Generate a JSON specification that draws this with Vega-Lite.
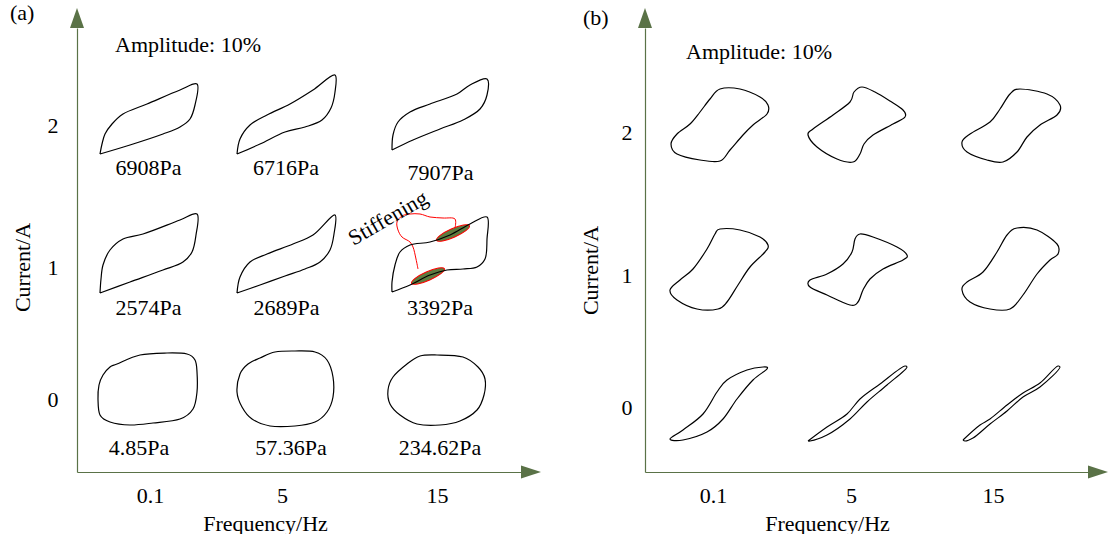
{
  "$schema": "https://vega.github.io/schema/vega-lite/v6.json",
  "background": "white",
  "padding": {"left": 10, "top": 1, "right": 0, "bottom": 0},
  "bounds": "flush",
  "spacing": 124,
  "config": {
    "view": {"stroke": null},
    "font": "Liberation Serif, Times New Roman, serif",
    "text": {"font": "Liberation Serif, Times New Roman, serif"},
    "axis": {
      "labelFont": "Liberation Serif, Times New Roman, serif", "titleFont": "Liberation Serif, Times New Roman, serif",
      "labelFontSize": 22, "titleFontSize": 22, "titleFontWeight": "normal",
      "labelColor": "#000000", "titleColor": "#000000",
      "ticks": false, "grid": false,
      "domainColor": "#5a7247", "domainWidth": 1.2,
      "labelFlush": false, "labelOverlap": false, "labelBound": false
    }
  },
  "datasets": {
    "loopsA": [
      {"id":"a20","x":23,"y":318},{"id":"a20","x":53,"y":327},{"id":"a20","x":86,"y":338},{"id":"a20","x":103,"y":345},{"id":"a20","x":113,"y":353},{"id":"a20","x":118,"y":367},{"id":"a20","x":120,"y":388},{"id":"a20","x":103,"y":382},{"id":"a20","x":70,"y":368},{"id":"a20","x":46,"y":358},{"id":"a20","x":35,"y":348},{"id":"a20","x":28,"y":338},{"id":"a20","x":25,"y":328},{"id":"a20","x":23,"y":318},
      {"id":"a21","x":160,"y":318},{"id":"a21","x":183,"y":328},{"id":"a21","x":208,"y":340},{"id":"a21","x":228,"y":345},{"id":"a21","x":245,"y":352},{"id":"a21","x":254,"y":364},{"id":"a21","x":258,"y":380},{"id":"a21","x":258,"y":397},{"id":"a21","x":236,"y":382},{"id":"a21","x":213,"y":368},{"id":"a21","x":190,"y":357},{"id":"a21","x":173,"y":347},{"id":"a21","x":163,"y":333},{"id":"a21","x":160,"y":318},
      {"id":"a22","x":315,"y":322},{"id":"a22","x":336,"y":332},{"id":"a22","x":363,"y":343},{"id":"a22","x":386,"y":352},{"id":"a22","x":403,"y":363},{"id":"a22","x":410,"y":377},{"id":"a22","x":410,"y":393},{"id":"a22","x":393,"y":387},{"id":"a22","x":380,"y":378},{"id":"a22","x":353,"y":368},{"id":"a22","x":333,"y":360},{"id":"a22","x":321,"y":350},{"id":"a22","x":316,"y":337},{"id":"a22","x":315,"y":322},
      {"id":"a10","x":23,"y":179},{"id":"a10","x":53,"y":190},{"id":"a10","x":86,"y":202},{"id":"a10","x":106,"y":210},{"id":"a10","x":115,"y":220},{"id":"a10","x":119,"y":237},{"id":"a10","x":120,"y":258},{"id":"a10","x":103,"y":252},{"id":"a10","x":66,"y":238},{"id":"a10","x":46,"y":233},{"id":"a10","x":33,"y":222},{"id":"a10","x":26,"y":207},{"id":"a10","x":24,"y":193},{"id":"a10","x":23,"y":179},
      {"id":"a11","x":160,"y":179},{"id":"a11","x":183,"y":187},{"id":"a11","x":208,"y":196},{"id":"a11","x":228,"y":203},{"id":"a11","x":243,"y":210},{"id":"a11","x":253,"y":222},{"id":"a11","x":257,"y":238},{"id":"a11","x":258,"y":257},{"id":"a11","x":236,"y":237},{"id":"a11","x":216,"y":228},{"id":"a11","x":190,"y":218},{"id":"a11","x":173,"y":210},{"id":"a11","x":163,"y":195},{"id":"a11","x":160,"y":179},
      {"id":"a12","x":315,"y":180},{"id":"a12","x":333,"y":187},{"id":"a12","x":353,"y":197},{"id":"a12","x":370,"y":202},{"id":"a12","x":386,"y":203},{"id":"a12","x":400,"y":205},{"id":"a12","x":408,"y":213},{"id":"a12","x":410,"y":233},{"id":"a12","x":410,"y":255},{"id":"a12","x":393,"y":248},{"id":"a12","x":373,"y":237},{"id":"a12","x":353,"y":230},{"id":"a12","x":333,"y":227},{"id":"a12","x":323,"y":220},{"id":"a12","x":318,"y":207},{"id":"a12","x":315,"y":190},{"id":"a12","x":315,"y":180},
      {"id":"a00","x":40,"y":108},{"id":"a00","x":63,"y":117},{"id":"a00","x":90,"y":119},{"id":"a00","x":110,"y":118},{"id":"a00","x":118,"y":112},{"id":"a00","x":120,"y":100},{"id":"a00","x":120,"y":80},{"id":"a00","x":116,"y":63},{"id":"a00","x":103,"y":53},{"id":"a00","x":76,"y":49},{"id":"a00","x":53,"y":47},{"id":"a00","x":33,"y":50},{"id":"a00","x":23,"y":57},{"id":"a00","x":21,"y":73},{"id":"a00","x":22,"y":87},{"id":"a00","x":26,"y":97},{"id":"a00","x":33,"y":105},
      {"id":"a01","x":160,"y":80},{"id":"a01","x":163,"y":98},{"id":"a01","x":171,"y":108},{"id":"a01","x":183,"y":114},{"id":"a01","x":198,"y":120},{"id":"a01","x":218,"y":121},{"id":"a01","x":238,"y":120},{"id":"a01","x":250,"y":112},{"id":"a01","x":256,"y":95},{"id":"a01","x":256,"y":75},{"id":"a01","x":250,"y":60},{"id":"a01","x":238,"y":50},{"id":"a01","x":218,"y":46},{"id":"a01","x":193,"y":46},{"id":"a01","x":175,"y":53},{"id":"a01","x":165,"y":65},
      {"id":"a02","x":360,"y":117},{"id":"a02","x":386,"y":115},{"id":"a02","x":401,"y":105},{"id":"a02","x":408,"y":93},{"id":"a02","x":407,"y":77},{"id":"a02","x":400,"y":62},{"id":"a02","x":383,"y":51},{"id":"a02","x":363,"y":47},{"id":"a02","x":340,"y":48},{"id":"a02","x":323,"y":57},{"id":"a02","x":313,"y":68},{"id":"a02","x":311,"y":82},{"id":"a02","x":316,"y":95},{"id":"a02","x":330,"y":108},{"id":"a02","x":343,"y":116}
    ],
    "loopsB": [
      {"id":"b20","x":75,"y":383},{"id":"b20","x":95,"y":383},{"id":"b20","x":115,"y":375},{"id":"b20","x":123,"y":367},{"id":"b20","x":122,"y":358},{"id":"b20","x":108,"y":347},{"id":"b20","x":98,"y":337},{"id":"b20","x":85,"y":322},{"id":"b20","x":75,"y":311},{"id":"b20","x":55,"y":312},{"id":"b20","x":32,"y":318},{"id":"b20","x":26,"y":328},{"id":"b20","x":32,"y":338},{"id":"b20","x":45,"y":348},{"id":"b20","x":55,"y":360},{"id":"b20","x":65,"y":373},
      {"id":"b21","x":163,"y":337},{"id":"b21","x":168,"y":343},{"id":"b21","x":188,"y":357},{"id":"b21","x":205,"y":370},{"id":"b21","x":209,"y":380},{"id":"b21","x":217,"y":385},{"id":"b21","x":230,"y":380},{"id":"b21","x":245,"y":371},{"id":"b21","x":258,"y":362},{"id":"b21","x":260,"y":355},{"id":"b21","x":248,"y":348},{"id":"b21","x":228,"y":337},{"id":"b21","x":219,"y":328},{"id":"b21","x":215,"y":318},{"id":"b21","x":208,"y":310},{"id":"b21","x":192,"y":313},{"id":"b21","x":172,"y":325},
      {"id":"b22","x":375,"y":383},{"id":"b22","x":402,"y":378},{"id":"b22","x":415,"y":367},{"id":"b22","x":412,"y":357},{"id":"b22","x":395,"y":347},{"id":"b22","x":382,"y":335},{"id":"b22","x":372,"y":320},{"id":"b22","x":358,"y":310},{"id":"b22","x":342,"y":312},{"id":"b22","x":322,"y":320},{"id":"b22","x":317,"y":330},{"id":"b22","x":325,"y":338},{"id":"b22","x":345,"y":350},{"id":"b22","x":355,"y":363},{"id":"b22","x":365,"y":378},
      {"id":"b10","x":75,"y":243},{"id":"b10","x":95,"y":242},{"id":"b10","x":115,"y":235},{"id":"b10","x":123,"y":227},{"id":"b10","x":120,"y":220},{"id":"b10","x":105,"y":205},{"id":"b10","x":93,"y":187},{"id":"b10","x":82,"y":170},{"id":"b10","x":73,"y":163},{"id":"b10","x":52,"y":163},{"id":"b10","x":32,"y":172},{"id":"b10","x":25,"y":182},{"id":"b10","x":35,"y":192},{"id":"b10","x":48,"y":203},{"id":"b10","x":62,"y":223},{"id":"b10","x":70,"y":238},
      {"id":"b11","x":215,"y":238},{"id":"b11","x":228,"y":235},{"id":"b11","x":252,"y":225},{"id":"b11","x":262,"y":217},{"id":"b11","x":258,"y":212},{"id":"b11","x":238,"y":203},{"id":"b11","x":225,"y":193},{"id":"b11","x":218,"y":182},{"id":"b11","x":213,"y":170},{"id":"b11","x":205,"y":167},{"id":"b11","x":182,"y":177},{"id":"b11","x":165,"y":185},{"id":"b11","x":165,"y":192},{"id":"b11","x":182,"y":198},{"id":"b11","x":198,"y":208},{"id":"b11","x":207,"y":220},{"id":"b11","x":210,"y":233},
      {"id":"b12","x":372,"y":244},{"id":"b12","x":392,"y":242},{"id":"b12","x":412,"y":228},{"id":"b12","x":413,"y":218},{"id":"b12","x":405,"y":212},{"id":"b12","x":392,"y":198},{"id":"b12","x":378,"y":177},{"id":"b12","x":365,"y":163},{"id":"b12","x":345,"y":163},{"id":"b12","x":325,"y":170},{"id":"b12","x":317,"y":182},{"id":"b12","x":322,"y":190},{"id":"b12","x":338,"y":200},{"id":"b12","x":352,"y":220},{"id":"b12","x":362,"y":237},
      {"id":"b00","x":25,"y":33},{"id":"b00","x":38,"y":42},{"id":"b00","x":58,"y":58},{"id":"b00","x":72,"y":80},{"id":"b00","x":82,"y":92},{"id":"b00","x":102,"y":102},{"id":"b00","x":118,"y":105},{"id":"b00","x":122,"y":103},{"id":"b00","x":108,"y":92},{"id":"b00","x":92,"y":73},{"id":"b00","x":78,"y":53},{"id":"b00","x":62,"y":40},{"id":"b00","x":38,"y":32},
      {"id":"b01","x":163,"y":31},{"id":"b01","x":182,"y":45},{"id":"b01","x":202,"y":58},{"id":"b01","x":215,"y":73},{"id":"b01","x":235,"y":88},{"id":"b01","x":260,"y":106},{"id":"b01","x":262,"y":105},{"id":"b01","x":242,"y":87},{"id":"b01","x":222,"y":70},{"id":"b01","x":205,"y":53},{"id":"b01","x":182,"y":37},{"id":"b01","x":165,"y":31},{"id":"b01","x":163,"y":31},
      {"id":"b02","x":318,"y":32},{"id":"b02","x":335,"y":47},{"id":"b02","x":345,"y":53},{"id":"b02","x":362,"y":67},{"id":"b02","x":378,"y":79},{"id":"b02","x":395,"y":89},{"id":"b02","x":413,"y":106},{"id":"b02","x":415,"y":105},{"id":"b02","x":395,"y":85},{"id":"b02","x":378,"y":75},{"id":"b02","x":362,"y":61},{"id":"b02","x":345,"y":48},{"id":"b02","x":328,"y":34},{"id":"b02","x":320,"y":31},{"id":"b02","x":318,"y":32}
    ],
    "redA": [
      {"id":"p1","x":378,"y":244},{"id":"p1","x":378,"y":253},{"id":"p1","x":366,"y":254},{"id":"p1","x":353,"y":255},{"id":"p1","x":343,"y":258},{"id":"p1","x":333,"y":258},{"id":"p1","x":325,"y":256},{"id":"p1","x":320,"y":250},{"id":"p1","x":321,"y":242},{"id":"p1","x":325,"y":235},{"id":"p1","x":333,"y":230},{"id":"p1","x":336,"y":225},{"id":"p1","x":339,"y":213},{"id":"p1","x":341,"y":203}
    ],
    "ellipsesA": [{"x":376,"y":239},{"x":351,"y":196}],
    "stressA": [
      {"x":71.5,"y":297,"text":"6908Pa"},{"x":209,"y":297,"text":"6716Pa"},{"x":363.5,"y":292,"text":"7907Pa"},
      {"x":71.5,"y":157,"text":"2574Pa"},{"x":209.5,"y":157,"text":"2689Pa"},{"x":363,"y":157,"text":"3392Pa"},
      {"x":62,"y":17,"text":"4.85Pa"},{"x":214,"y":17,"text":"57.36Pa"},{"x":363,"y":17,"text":"234.62Pa"}
    ]
  },
  "hconcat": [
    {
      "width": 444, "height": 444,
      "encoding": {
        "x": {"field": "x", "type": "quantitative", "scale": {"domain": [0, 444], "nice": false, "zero": false},
              "axis": {"values": [73, 205, 360], "labelExpr": "datum.value < 100 ? '0.1' : datum.value < 300 ? '5' : '15'", "labelPadding": 13, "title": "Frequency/Hz", "titleX": 188, "titleY": 58, "titleBaseline": "alphabetic"}},
        "y": {"field": "y", "type": "quantitative", "scale": {"domain": [0, 444], "nice": false, "zero": false},
              "axis": {"values": [73, 205, 347], "labelExpr": "datum.value < 100 ? '0' : datum.value < 300 ? '1' : '2'", "labelPadding": 19, "labelBaseline": "middle", "title": "Current/A", "titleX": -55, "titleY": 239, "titleBaseline": "middle", "titleAngle": 270}}
      },
      "layer": [
        {"data": {"values": [{"x": 0, "y": 444}]}, "mark": {"type": "point", "shape": "M0,-4L1.4,0L-1.4,0Z", "size": 100, "filled": true, "color": "#5a7247", "opacity": 1, "strokeWidth": 0}},
        {"data": {"values": [{"x": 444, "y": 0}]}, "mark": {"type": "point", "shape": "M4,0L0,1.3L0,-1.3Z", "size": 100, "filled": true, "color": "#5a7247", "opacity": 1, "strokeWidth": 0}},
        {"data": {"name": "ellipsesA"}, "mark": {"type": "point", "shape": "M-1,0A1,0.24 0 1,1 1,0A1,0.24 0 1,1 -1,0Z", "size": 1296, "angle": -24, "filled": true, "fill": "#5e7b3e", "stroke": "#ff0000", "strokeWidth": 1, "opacity": 1}},
        {"data": {"name": "redA"}, "mark": {"type": "line", "color": "#ff0000", "strokeWidth": 1, "interpolate": "catmull-rom"}, "encoding": {"detail": {"field": "id"}, "order": {"value": null}}},
        {"data": {"name": "loopsA"}, "transform": [{"filter": {"field": "id", "oneOf": ["a20","a21","a22","a10","a11","a12"]}}], "mark": {"type": "line", "color": "#000000", "strokeWidth": 1.2, "interpolate": "catmull-rom"}, "encoding": {"detail": {"field": "id"}, "order": {"value": null}}},
        {"data": {"name": "loopsA"}, "transform": [{"filter": {"field": "id", "oneOf": ["a00","a01","a02"]}}], "mark": {"type": "line", "color": "#000000", "strokeWidth": 1.2, "interpolate": "cardinal-closed"}, "encoding": {"detail": {"field": "id"}, "order": {"value": null}}},
        {"data": {"name": "stressA"}, "mark": {"type": "text", "fontSize": 22, "align": "center", "baseline": "alphabetic", "font": "Liberation Serif, Times New Roman, serif", "color": "#000000"}, "encoding": {"text": {"field": "text"}}},
        {"data": {"values": [{"x": 38, "y": 420, "text": "Amplitude: 10%"}, {"x": -67, "y": 452, "text": "(a)"}]}, "mark": {"type": "text", "fontSize": 22, "align": "left", "baseline": "alphabetic", "font": "Liberation Serif, Times New Roman, serif", "color": "#000000"}, "encoding": {"text": {"field": "text"}}},
        {"data": {"values": [{"x": 311, "y": 254, "text": "Stiffening"}]}, "mark": {"type": "text", "fontSize": 22, "angle": -30, "align": "center", "baseline": "middle", "font": "Liberation Serif, Times New Roman, serif", "color": "#000000"}, "encoding": {"text": {"field": "text"}}}
      ]
    },
    {
      "width": 443, "height": 444,
      "encoding": {
        "x": {"field": "x", "type": "quantitative", "scale": {"domain": [0, 443], "nice": false, "zero": false},
              "axis": {"values": [68, 206, 348], "labelExpr": "datum.value < 100 ? '0.1' : datum.value < 300 ? '5' : '15'", "labelPadding": 13, "title": "Frequency/Hz", "titleX": 182, "titleY": 58, "titleBaseline": "alphabetic"}},
        "y": {"field": "y", "type": "quantitative", "scale": {"domain": [0, 444], "nice": false, "zero": false},
              "axis": {"values": [65, 197, 340], "labelExpr": "datum.value < 100 ? '0' : datum.value < 300 ? '1' : '2'", "labelPadding": 13, "labelBaseline": "middle", "title": "Current/A", "titleX": -55, "titleY": 242, "titleBaseline": "middle", "titleAngle": 270}}
      },
      "layer": [
        {"data": {"values": [{"x": 0, "y": 444}]}, "mark": {"type": "point", "shape": "M0,-4L1.4,0L-1.4,0Z", "size": 100, "filled": true, "color": "#5a7247", "opacity": 1, "strokeWidth": 0}},
        {"data": {"values": [{"x": 443, "y": 0}]}, "mark": {"type": "point", "shape": "M4,0L0,1.3L0,-1.3Z", "size": 100, "filled": true, "color": "#5a7247", "opacity": 1, "strokeWidth": 0}},
        {"data": {"name": "loopsB"}, "transform": [{"filter": {"field": "id", "oneOf": ["b20","b21","b22","b10","b11","b12","b00"]}}], "mark": {"type": "line", "color": "#000000", "strokeWidth": 1.2, "interpolate": "cardinal-closed"}, "encoding": {"detail": {"field": "id"}, "order": {"value": null}}},
        {"data": {"name": "loopsB"}, "transform": [{"filter": {"field": "id", "oneOf": ["b01","b02"]}}], "mark": {"type": "line", "color": "#000000", "strokeWidth": 1.1, "interpolate": "catmull-rom"}, "encoding": {"detail": {"field": "id"}, "order": {"value": null}}},
        {"data": {"values": [{"x": 41, "y": 413, "text": "Amplitude: 10%"}, {"x": -62, "y": 447, "text": "(b)"}]}, "mark": {"type": "text", "fontSize": 22, "align": "left", "baseline": "alphabetic", "font": "Liberation Serif, Times New Roman, serif", "color": "#000000"}, "encoding": {"text": {"field": "text"}}}
      ]
    }
  ]
}
